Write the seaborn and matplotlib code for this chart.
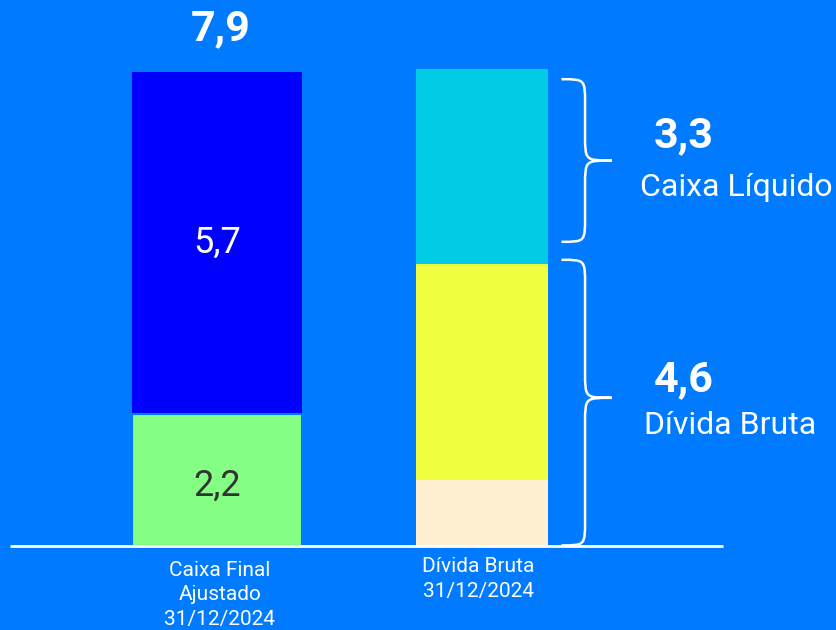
import matplotlib
matplotlib.use('Agg')
import seaborn as sns
import matplotlib.pyplot as plt
from matplotlib.path import Path
from matplotlib.patches import PathPatch

# data
categories = ['Caixa Final\nAjustado\n31/12/2024', 'Dívida Bruta\n31/12/2024']
caixa_vals = [2.2, 5.7]            # green, blue
caixa_total = 7.9
divida_vals = [1.1, 3.6, 3.25]     # beige, yellow, cyan
brace_vals = [3.3, 4.6]
brace_names = ['Caixa Líquido', 'Dívida Bruta']

bg = '#007BFF'
caixa_colors = ['#84FF84', '#0000FF']
divida_colors = ['#FEF0D0', '#EFFF40', '#00CDE5']

sns.set_theme(style='white')
plt.rcParams['font.family'] = ['Roboto', 'DejaVu Sans']

fig = plt.figure(figsize=(8.36, 6.3), dpi=100)
fig.patch.set_facecolor(bg)
ax = fig.add_axes([0, 0, 1, 1])
ax.set_facecolor(bg)

def fmt(v):
    return f'{v:.1f}'.replace('.', ',')

# left bar: stacked by overlaying cumulative totals
cum = [sum(caixa_vals[:i + 1]) for i in range(len(caixa_vals))]
sns.barplot(x=[0], y=[cum[1]], native_scale=True, width=0.645, color=caixa_colors[1],
            saturation=1, linewidth=0, ax=ax)
sns.barplot(x=[0], y=[cum[0]], native_scale=True, width=0.645, color=caixa_colors[0],
            saturation=1, edgecolor=bg, linewidth=1.5, ax=ax)

# right bar
cum2 = [sum(divida_vals[:i + 1]) for i in range(len(divida_vals))]
for h, c in reversed(list(zip(cum2, divida_colors))):
    sns.barplot(x=[1], y=[h], native_scale=True, width=0.5, color=c,
                saturation=1, linewidth=0, ax=ax)

# baseline
ax.plot([-0.78, 1.91], [0.0, 0.0], color='white', lw=2, solid_capstyle='butt')

# bar labels
ax.text(0.015, caixa_total + 0.72, fmt(caixa_total), ha='center', va='center',
        color='white', fontsize=31, fontweight='bold')
ax.text(0, caixa_vals[0] + caixa_vals[1] / 2, fmt(caixa_vals[1]), ha='center',
        va='center', color='white', fontsize=26)
ax.text(0, caixa_vals[0] / 2 - 0.1, fmt(caixa_vals[0]), ha='center',
        va='center', color='#333333', fontsize=26)

# category labels
ax.text(0.01, -0.25, categories[0], ha='center', va='top', color='white',
        fontsize=15, linespacing=1.35)
ax.text(-0.015 + 1, -0.19, categories[1], ha='center', va='top', color='white',
        fontsize=15, linespacing=1.35)


def brace(y0, y1, ymid, xs=1.30, xm=1.389, xt=1.49, r=0.42):
    verts = [(xs, y1), (xm, y1), (xm, y1), (xm, y1 - r),
             (xm, ymid + r),
             (xm, ymid), (xm, ymid), (xt, ymid),
             (xm, ymid), (xm, ymid), (xm, ymid - r),
             (xm, y0 + r),
             (xm, y0), (xm, y0), (xs, y0)]
    codes = [Path.MOVETO, Path.CURVE4, Path.CURVE4, Path.CURVE4,
             Path.LINETO,
             Path.CURVE4, Path.CURVE4, Path.CURVE4,
             Path.CURVE4, Path.CURVE4, Path.CURVE4,
             Path.LINETO,
             Path.CURVE4, Path.CURVE4, Path.CURVE4]
    ax.add_patch(PathPatch(Path(verts, codes), fill=False, edgecolor='white', lw=1.8))

# braces
debt_top = divida_vals[0] + divida_vals[1]
top_lo = debt_top + 0.37
top_hi = sum(divida_vals) - 0.17
low_lo = 0.01
low_hi = debt_top + 0.07
spans = [(top_lo, top_hi, (top_lo + top_hi) / 2), (low_lo, low_hi, 2.47)]
num_off = [0.42, 0.3]
name_off = [-0.45, -0.47]
name_x = [1.96, 1.935]
for (lo, hi, mid), v, name, nx, no, nmo in zip(spans, brace_vals, brace_names,
                                               name_x, num_off, name_off):
    brace(lo, hi, mid)
    ax.text(1.76, mid + no, fmt(v), ha='center', va='center', color='white',
            fontsize=31, fontweight='bold')
    ax.text(nx, mid + nmo, name, ha='center', va='center', color='white',
            fontsize=23)

ax.set_xlim(-0.819, 2.336)
ax.set_ylim(-1.4, 9.1)
ax.axis('off')

fig.savefig('out.png', dpi=100, facecolor=bg)
